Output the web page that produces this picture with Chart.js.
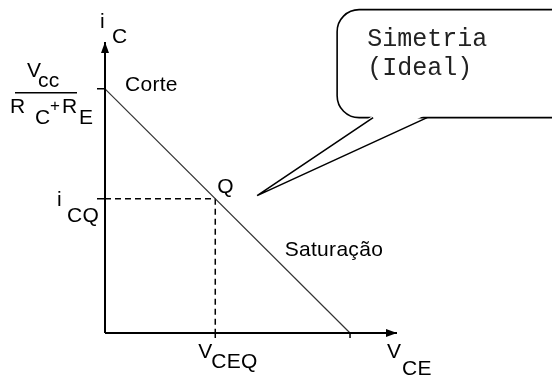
<!DOCTYPE html>
<html>
<head>
<meta charset="utf-8">
<script src="https://cdn.jsdelivr.net/npm/chart.js@4.4.1/dist/chart.umd.min.js"></script>
<style>
  html, body { margin: 0; padding: 0; background: #fff; }
  #wrap { width: 552px; height: 376px; }
</style>
</head>
<body>
<div id="wrap"><canvas id="chart" width="552" height="376"></canvas></div>
<script>
// load line end points (VCE, iC) -- corte and saturação
const lineVce = [0, 12];
const lineIc = [12, 0];
// operating point Q
const qVce = 5.4;
const qIc = 6.6;
// axis extents (where the arrow tips sit)
const axisMax = { x: 14.3, y: 14.3 };
// tail tip of the speech bubble, in data units
const bubbleTip = { x: 7.45, y: 6.75 };

const FONT = '21px "Liberation Sans", Arial, sans-serif';
const MONO = '25px "Liberation Mono", "Courier New", monospace';

const seg = (xs, ys) => xs.map((x, i) => ({ x, y: ys[i] }));

const drawText = (ctx, s, x, y, font) => {
  ctx.font = font || FONT;
  ctx.fillText(s, x, y);
};

const extras = {
  id: 'extras',
  afterDatasetsDraw(chart) {
    const ctx = chart.ctx;
    const sx = chart.scales.x, sy = chart.scales.y;
    const x0 = sx.getPixelForValue(0), y0 = sy.getPixelForValue(0);
    const xEnd = sx.getPixelForValue(axisMax.x), yTop = sy.getPixelForValue(axisMax.y);
    const yMax = sy.getPixelForValue(lineIc[0]);
    const xMax = sx.getPixelForValue(lineVce[1]);
    const qx = sx.getPixelForValue(qVce), qy = sy.getPixelForValue(qIc);

    ctx.save();
    ctx.fillStyle = '#000';
    ctx.strokeStyle = '#000';

    // arrow heads
    ctx.beginPath();
    ctx.moveTo(x0, yTop); ctx.lineTo(x0 - 4, yTop + 11); ctx.lineTo(x0 + 4, yTop + 11);
    ctx.closePath(); ctx.fill();
    ctx.beginPath();
    ctx.moveTo(xEnd, y0); ctx.lineTo(xEnd - 11, y0 - 4); ctx.lineTo(xEnd - 11, y0 + 4);
    ctx.closePath(); ctx.fill();

    // tick marks
    ctx.lineWidth = 1.5;
    ctx.beginPath();
    [yMax, qy].forEach(py => { ctx.moveTo(x0 - 8, py); ctx.lineTo(x0 + 1, py); });
    [qx, xMax].forEach(px => { ctx.moveTo(px, y0); ctx.lineTo(px, y0 + 5); });
    ctx.stroke();

    // labels
    ctx.textAlign = 'left';
    ctx.textBaseline = 'alphabetic';
    ctx.letterSpacing = '0.3px';
    drawText(ctx, 'i', x0 - 5, yTop - 14);
    drawText(ctx, 'C', x0 + 7, yTop + 1);

    drawText(ctx, 'V', x0 - 78, yMax - 12);
    drawText(ctx, 'cc', x0 - 67, yMax - 2);
    ctx.lineWidth = 1.5;
    ctx.beginPath(); ctx.moveTo(x0 - 90, yMax + 4); ctx.lineTo(x0 - 28, yMax + 4); ctx.stroke();
    drawText(ctx, 'R', x0 - 95, yMax + 24);
    drawText(ctx, 'C', x0 - 70, yMax + 35);
    drawText(ctx, '+', x0 - 55, yMax + 22, '17px "Liberation Sans", Arial, sans-serif');
    drawText(ctx, 'R', x0 - 43, yMax + 24);
    drawText(ctx, 'E', x0 - 26, yMax + 35);

    drawText(ctx, 'Corte', x0 + 20, yMax + 2);
    drawText(ctx, 'Q', qx + 2, qy - 6);
    drawText(ctx, 'Saturação', sx.getPixelForValue(8.8), sy.getPixelForValue(3.79));

    drawText(ctx, 'i', x0 - 48, qy + 7);
    drawText(ctx, 'CQ', x0 - 38, qy + 23);

    drawText(ctx, 'V', qx - 17, y0 + 25);
    drawText(ctx, 'CEQ', qx - 4, y0 + 35);

    drawText(ctx, 'V', xEnd - 10, y0 + 25);
    drawText(ctx, 'CE', xEnd + 5, y0 + 42);
    ctx.letterSpacing = '0px';

    // speech bubble
    const tx = sx.getPixelForValue(bubbleTip.x), ty = sy.getPixelForValue(bubbleTip.y);
    const bx = tx + 80, by = ty - 186, bw = 240, bh = 108, r = 22;
    const baseY = by + bh;
    ctx.lineWidth = 1.6;
    ctx.fillStyle = '#fff';
    ctx.beginPath();
    ctx.roundRect(bx, by, bw, bh, r);
    ctx.fill(); ctx.stroke();
    ctx.beginPath();
    ctx.moveTo(tx + 117, baseY - 3); ctx.lineTo(tx, ty); ctx.lineTo(tx + 169, baseY - 3);
    ctx.closePath(); ctx.fill();
    ctx.beginPath();
    ctx.moveTo(tx + 116, baseY); ctx.lineTo(tx, ty); ctx.lineTo(tx + 170, baseY);
    ctx.stroke();
    ctx.fillStyle = '#222';
    drawText(ctx, 'Simetria', bx + 30, by + 36, MONO);
    drawText(ctx, '(Ideal)', bx + 30, by + 65, MONO);
    ctx.restore();
  }
};

new Chart(document.getElementById('chart'), {
  type: 'scatter',
  data: {
    datasets: [
      { data: seg([0, axisMax.x], [0, 0]), borderColor: '#000', borderWidth: 2 },
      { data: seg([0, 0], [0, axisMax.y]), borderColor: '#000', borderWidth: 2 },
      { data: seg(lineVce, lineIc), borderColor: '#333', borderWidth: 1.2 },
      { data: seg([0, qVce], [qIc, qIc]), borderColor: '#000', borderWidth: 1.5, borderDash: [6, 4] },
      { data: seg([qVce, qVce], [qIc, 0]), borderColor: '#000', borderWidth: 1.5, borderDash: [6, 4] }
    ].map(d => Object.assign(d, { showLine: true, pointRadius: 0, fill: false, clip: false }))
  },
  options: {
    responsive: false,
    animation: false,
    layout: { padding: { left: 105, right: 155, top: 42, bottom: 43 } },
    plugins: { legend: { display: false }, tooltip: { enabled: false } },
    scales: {
      x: { type: 'linear', min: 0, max: axisMax.x, display: false },
      y: { type: 'linear', min: 0, max: axisMax.y, display: false }
    }
  },
  plugins: [extras]
});
</script>
</body>
</html>
